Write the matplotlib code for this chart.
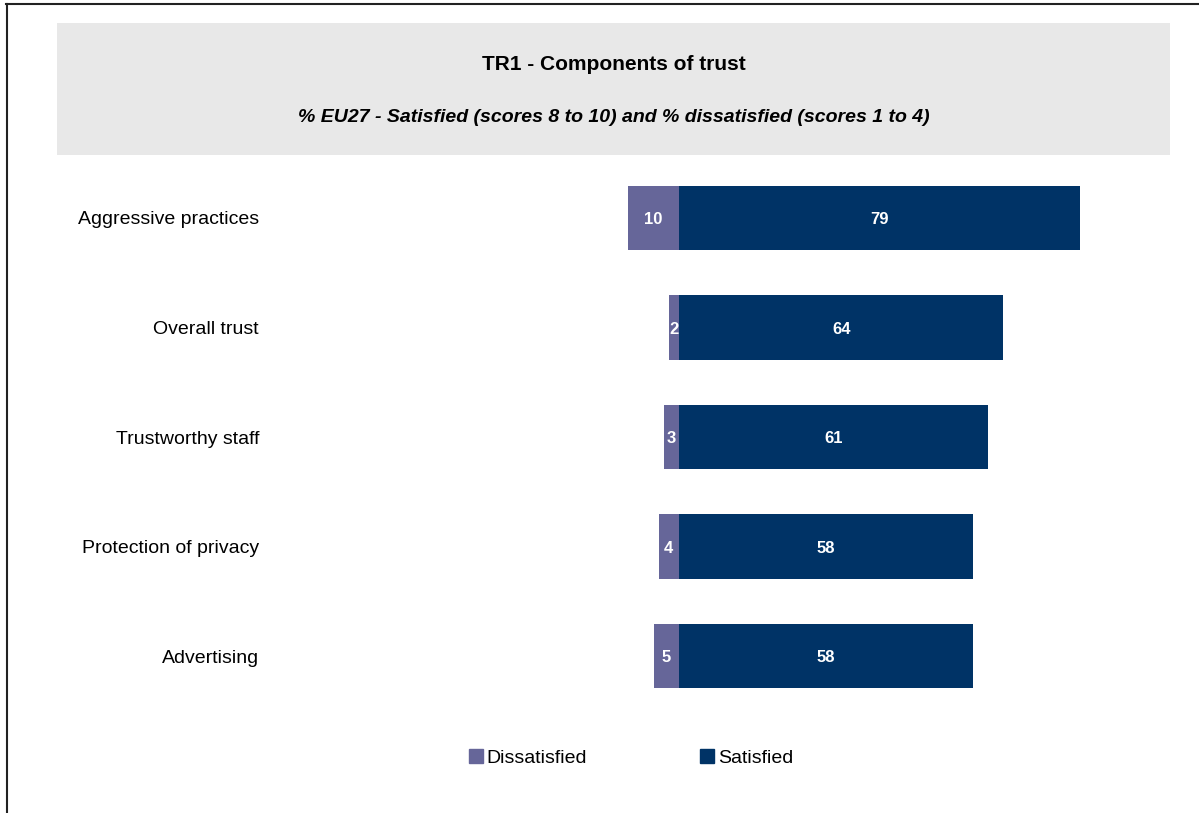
import matplotlib.pyplot as plt
from matplotlib.patches import Rectangle, Patch
from matplotlib.lines import Line2D

plt.rcParams['font.family'] = ['Liberation Sans', 'DejaVu Sans']

categories = ['Aggressive practices', 'Overall trust', 'Trustworthy staff',
              'Protection of privacy', 'Advertising']
dissatisfied = [10, 2, 3, 4, 5]
satisfied = [79, 64, 61, 58, 58]

col_dis = '#666699'
col_sat = '#003366'

W, H = 1199, 813
fig = plt.figure(figsize=(W / 100, H / 100), dpi=100)


def fx(px):
    return px / W


def fy(py):
    return 1 - py / H


# frame lines (left and top only)
fig.add_artist(Line2D([fx(7), fx(7)], [fy(4), fy(813)], color='#222222', lw=1.5))
fig.add_artist(Line2D([fx(6), fx(1199)], [fy(4), fy(4)], color='#222222', lw=1.5))

# grey header band
fig.add_artist(Rectangle((fx(57), fy(155)), fx(1170) - fx(57), fy(23) - fy(155),
                         facecolor='#e8e8e8', edgecolor='none'))
fig.text(fx(614), fy(65), 'TR1 - Components of trust', ha='center', va='center',
         fontsize=15, fontweight='bold')
fig.text(fx(614), fy(118), '% EU27 - Satisfied (scores 8 to 10) and % dissatisfied (scores 1 to 4)',
         ha='center', va='center', fontsize=14, fontweight='bold', fontstyle='italic')

# bar area
scale = 5.07  # pixels per percentage point
ax_l, ax_r, ax_t, ax_b = 270, 1170, 160, 715
ax = fig.add_axes([fx(ax_l), fy(ax_b), fx(ax_r) - fx(ax_l), fy(ax_t) - fy(ax_b)])
ax.set_xlim((ax_l - 679) / scale, (ax_r - 679) / scale)
step = 109.5
ax.set_ylim((ax_b - 218) / step, (ax_t - 218) / step)

y = list(range(len(categories)))
ax.barh(y, [-d for d in dissatisfied], height=0.585, color=col_dis)
ax.barh(y, satisfied, height=0.585, color=col_sat)

for i in y:
    ax.text(-dissatisfied[i] / 2, i + 0.015, str(dissatisfied[i]), ha='center', va='center',
            color='white', fontsize=12, fontweight='bold')
    ax.text(satisfied[i] / 2, i + 0.015, str(satisfied[i]), ha='center', va='center',
            color='white', fontsize=12, fontweight='bold')
    fig.text(fx(259), fy(220 + step * i), categories[i], ha='right', va='center', fontsize=14)

ax.axis('off')

handles = [Patch(color=col_dis, label='Dissatisfied'), Patch(color=col_sat, label='Satisfied')]
fig.legend(handles=handles, loc='center', bbox_to_anchor=(fx(631), fy(758)), ncol=2,
           frameon=False, fontsize=14, handlelength=0.72, handleheight=0.72,
           handletextpad=0.2, columnspacing=5.8)

fig.savefig('out.png', dpi=100)
